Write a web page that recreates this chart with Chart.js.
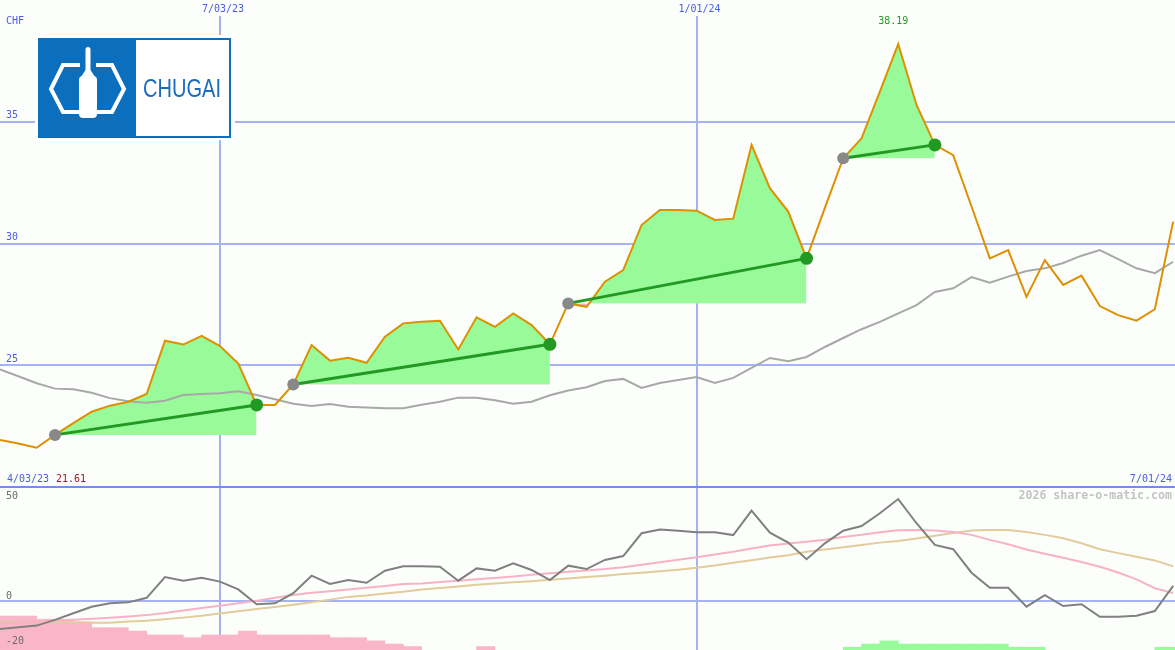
<!DOCTYPE html>
<html>
<head>
<meta charset="utf-8">
<script src="https://cdn.jsdelivr.net/npm/chart.js@4.4.0/dist/chart.umd.min.js"></script>
<style>
  html, body { margin: 0; padding: 0; background: #fbfefb; }
  #wrap { position: relative; width: 1175px; height: 650px; }
</style>
</head>
<body>
<div id="wrap"><canvas id="chart" width="1175" height="650"></canvas></div>
<script>
// weekly closes, index 0 = week of 10 Apr 2023
const START_DATE = "2023-04-10";
const X_SPAN = 64.1;

const PRICE = [
  21.93, 21.79, 21.61, 22.14, 22.62, 23.09, 23.34, 23.50, 23.82, 26.01,
  25.85, 26.21, 25.79, 25.07, 23.37, 23.37, 24.21, 25.83, 25.19, 25.31,
  25.10, 26.17, 26.72, 26.79, 26.83, 25.65, 26.97, 26.58, 27.13, 26.65,
  25.86, 27.54, 27.40, 28.43, 28.91, 30.76, 31.38, 31.38, 31.35, 30.97,
  31.02, 34.05, 32.27, 31.31, 29.39, 31.46, 33.50, 34.32, 36.24, 38.19,
  35.69, 34.05, 33.63, 31.52, 29.39, 29.73, 27.81, 29.32, 28.30, 28.68,
  27.43, 27.06, 26.83, 27.30, 30.90,
];

const PRICE_MA = [
  24.83, 24.55, 24.26, 24.04, 24.01, 23.87, 23.65, 23.52, 23.46, 23.54,
  23.78, 23.82, 23.85, 23.93, 23.78, 23.60, 23.42, 23.33, 23.41, 23.30,
  23.26, 23.23, 23.23, 23.38, 23.50, 23.67, 23.67, 23.56, 23.42, 23.50,
  23.77, 23.96, 24.10, 24.35, 24.44, 24.07, 24.27, 24.39, 24.52, 24.27,
  24.48, 24.89, 25.30, 25.17, 25.34, 25.75, 26.12, 26.48, 26.78, 27.13,
  27.47, 28.01, 28.16, 28.62, 28.39, 28.64, 28.87, 28.98, 29.20, 29.50,
  29.73, 29.36, 28.98, 28.78, 29.25,
];

// trend segments: start / end week index
const TREND_START = [3, 16, 31, 46];
const TREND_END = [14, 30, 44, 51];

const OSC = [
  -12.3, -11.5, -10.8, -8.3, -5.4, -2.5, -1.0, -0.6, 1.4, 10.5,
  8.9, 10.2, 8.5, 5.1, -1.4, -1.0, 3.4, 11.1, 7.5, 9.2,
  8.0, 13.3, 15.2, 15.2, 15.0, 8.9, 14.3, 13.3, 16.5, 13.6,
  9.2, 15.5, 14.0, 18.0, 19.7, 29.7, 31.4, 30.8, 30.1, 30.1,
  28.9, 39.6, 30.0, 25.6, 18.3, 25.3, 30.8, 32.9, 38.5, 44.7,
  34.1, 24.6, 22.7, 12.4, 5.8, 5.8, -2.5, 2.6, -2.2, -1.4,
  -6.9, -6.9, -6.5, -4.4, 6.6,
];

const OSC_FAST = [
  -9.8, -9.5, -9.1, -8.6, -8.2, -7.8, -7.3, -6.8, -6.2, -5.3,
  -4.2, -3.1, -2.1, -1.0, 0.1, 1.4, 2.6, 3.6, 4.3, 5.0,
  5.8, 6.6, 7.4, 7.7, 8.3, 8.9, 9.5, 10.1, 10.7, 11.5,
  12.2, 12.8, 13.4, 14.0, 14.8, 15.9, 17.0, 18.1, 19.2, 20.4,
  21.6, 23.0, 24.3, 25.2, 26.0, 26.9, 28.1, 29.1, 30.2, 31.0,
  31.1, 30.9, 30.3, 29.0, 26.8, 24.9, 22.6, 20.7, 19.0, 17.1,
  15.0, 12.5, 9.5, 5.6, 3.5,
];

const OSC_SLOW = [
  -9.1, -9.2, -9.3, -9.3, -9.4, -9.5, -9.5, -9.0, -8.7, -8.0,
  -7.3, -6.5, -5.5, -4.5, -3.5, -2.6, -1.7, -0.6, 0.6, 1.8,
  2.4, 3.3, 4.1, 5.0, 5.7, 6.4, 7.1, 7.7, 8.2, 8.7,
  9.3, 9.9, 10.5, 11.1, 11.8, 12.4, 13.0, 13.7, 14.6, 15.6,
  16.8, 17.9, 19.1, 20.1, 21.6, 22.6, 23.6, 24.6, 25.6, 26.3,
  27.4, 28.6, 29.8, 30.9, 31.1, 31.1, 30.3, 29.0, 27.5, 25.3,
  22.7, 21.0, 19.4, 17.8, 15.2,
];

// histogram bar tops, drawn up from the panel floor
const HIST_NEG = [
  -6.6, -6.6, -8.0, -8.0, -9.1, -11.7, -11.7, -13.2, -14.9, -14.9,
  -16.1, -14.9, -14.9, -13.2, -14.9, -14.9, -14.9, -14.9, -16.1, -16.1,
  -17.5, -18.9, -20.0, null, null, null, -20.0, null, null, null,
  null, null, null, null, null, null, null, null, null, null,
  null, null, null, null, null, null, null, null, null, null,
  null, null, null, null, null, null, null, null, null, null,
  null, null, null, null, null,
];
const HIST_POS = [
  null, null, null, null, null, null, null, null, null, null,
  null, null, null, null, null, null, null, null, null, null,
  null, null, null, null, null, null, null, null, null, null,
  null, null, null, null, null, null, null, null, null, null,
  null, null, null, null, null, null, -20.3, -18.9, -17.5, -18.9,
  -18.9, -18.9, -18.9, -18.9, -18.9, -20.3, -20.3, null, null, null,
  null, null, null, -20.3, -20.3,
];

const PRICE_TICKS = [25, 30, 35];
const OSC_TICKS = [50, 0, -20];
const DATE_LINES = ["2023-07-03", "2024-01-01"];
const DATE_LINE_LABELS = ["7/03/23", "1/01/24"];
const RANGE_LABELS = ["4/03/23", "7/01/24"];

// panel layout: price 40..20 on top 487px, oscillator 50..-21.5 below
const H = 650, SPLIT = 487;
const PRICE_TOP = 40, PRICE_BOTTOM = 20;
const OSC_TOP = 50, OSC_BOTTOM = -21.5;

const BLUE_TEXT = "#4c5ce6";
const GRID = "#a6b2f2";
const MONO = '10px "DejaVu Sans Mono", monospace';

function weekIndex(dateStr) {
  return (new Date(dateStr) - new Date(START_DATE)) / (7 * 86400000);
}

function toPoints(values) {
  return values.map((v, i) => ({ x: i, y: v }));
}

function barPoints(values) {
  return values
    .map((v, i) => ({ x: i + 0.5, y: v }))
    .filter((p) => p.y !== null);
}

function roundRect(ctx, x, y, w, h, r) {
  ctx.beginPath();
  ctx.moveTo(x + r, y);
  ctx.arcTo(x + w, y, x + w, y + h, r);
  ctx.arcTo(x + w, y + h, x, y + h, r);
  ctx.arcTo(x, y + h, x, y, r);
  ctx.arcTo(x, y, x + w, y, r);
  ctx.closePath();
  ctx.fill();
}

function drawLogo(ctx) {
  const blue = "#0b6fbe";
  ctx.save();
  ctx.fillStyle = "#ffffff";
  ctx.fillRect(35, 35, 200, 105);
  ctx.fillStyle = blue;
  ctx.fillRect(38, 38, 98, 100);
  ctx.strokeStyle = blue;
  ctx.lineWidth = 2;
  ctx.strokeRect(39, 39, 191, 98);

  ctx.strokeStyle = "#ffffff";
  ctx.lineWidth = 4;
  ctx.lineJoin = "miter";
  ctx.beginPath();
  ctx.moveTo(80, 65); ctx.lineTo(63, 65); ctx.lineTo(51, 89); ctx.lineTo(63, 112); ctx.lineTo(80, 112);
  ctx.stroke();
  ctx.beginPath();
  ctx.moveTo(96, 65); ctx.lineTo(112, 65); ctx.lineTo(124, 89); ctx.lineTo(112, 112); ctx.lineTo(96, 112);
  ctx.stroke();

  ctx.fillStyle = "#ffffff";
  roundRect(ctx, 85.5, 47, 5, 30, 2.5);
  ctx.beginPath();
  ctx.moveTo(85.5, 70); ctx.lineTo(90.5, 70); ctx.lineTo(97, 80); ctx.lineTo(79, 80);
  ctx.closePath();
  ctx.fill();
  roundRect(ctx, 79, 76, 18, 42, 4);

  ctx.fillStyle = "#1a6cbf";
  ctx.font = '25px "Liberation Sans", Arial, sans-serif';
  ctx.textAlign = "left";
  ctx.textBaseline = "alphabetic";
  ctx.fillText("CHUGAI", 143, 97, 78);
  ctx.restore();
}

const backdrop = {
  id: "backdrop",
  beforeDatasetsDraw(chart) {
    const { ctx, scales } = chart;
    const { x, y, y2 } = scales;
    ctx.save();
    ctx.lineWidth = 2;
    ctx.strokeStyle = GRID;
    PRICE_TICKS.forEach((t) => {
      const py = Math.round(y.getPixelForValue(t));
      ctx.beginPath(); ctx.moveTo(0, py); ctx.lineTo(1175, py); ctx.stroke();
    });
    const zy = Math.round(y2.getPixelForValue(0));
    ctx.beginPath(); ctx.moveTo(0, zy); ctx.lineTo(1175, zy); ctx.stroke();
    DATE_LINES.forEach((d) => {
      const px = Math.round(x.getPixelForValue(weekIndex(d)));
      ctx.beginPath(); ctx.moveTo(px, 16); ctx.lineTo(px, H); ctx.stroke();
    });
    ctx.strokeStyle = "#7888ec";
    const sy = Math.round(y2.getPixelForValue(OSC_TOP));
    ctx.beginPath(); ctx.moveTo(0, sy); ctx.lineTo(1175, sy); ctx.stroke();
    ctx.restore();
    drawLogo(ctx);
  },
  afterDraw(chart) {
    const { ctx, scales } = chart;
    const { x, y, y2 } = scales;
    ctx.save();
    ctx.font = MONO;
    ctx.textBaseline = "middle";
    ctx.fillStyle = BLUE_TEXT;
    ctx.textAlign = "left";
    ctx.fillText("CHF", 6, 21);
    PRICE_TICKS.forEach((t) => ctx.fillText(String(t), 6, y.getPixelForValue(t) - 6));
    ctx.fillText(RANGE_LABELS[0], 7, 479);
    ctx.textAlign = "right";
    ctx.fillText(RANGE_LABELS[1], 1172, 479);
    ctx.textAlign = "center";
    DATE_LINES.forEach((d, i) => {
      ctx.fillText(DATE_LINE_LABELS[i], x.getPixelForValue(weekIndex(d)) + 3, 9);
    });

    // high / low
    const hi = PRICE.indexOf(Math.max(...PRICE));
    const lo = Math.min(...PRICE);
    ctx.fillStyle = "#229922";
    ctx.fillText(PRICE[hi].toFixed(2), x.getPixelForValue(hi) - 5, y.getPixelForValue(PRICE[hi]) - 23);
    ctx.textAlign = "left";
    ctx.fillStyle = "#a01818";
    ctx.fillText(lo.toFixed(2), 56, 479);

    ctx.fillStyle = "#6a6a6a";
    OSC_TICKS.forEach((t) => {
      const py = y2.getPixelForValue(t);
      ctx.fillText(String(t), 6, t === OSC_TOP ? py + 9 : py - 5);
    });

    ctx.font = 'bold 11.6px "DejaVu Sans Mono", monospace';
    ctx.fillStyle = "#c4c4c4";
    ctx.textAlign = "right";
    ctx.fillText("2026 share-o-matic.com", 1172, 496);
    ctx.restore();
  },
};

const trendFills = TREND_START.map((s, k) => ({
  type: "line",
  data: PRICE.slice(s, TREND_END[k] + 1).map((v, j) => ({ x: s + j, y: v })),
  borderWidth: 0,
  borderColor: "rgba(0,0,0,0)",
  pointRadius: 0,
  fill: { target: { value: PRICE[s] }, above: "#98fa98", below: "#ffb8c8" },
  yAxisID: "y",
  order: 20,
}));

const trendLines = TREND_START.map((s, k) => ({
  type: "line",
  data: [{ x: s, y: PRICE[s] }, { x: TREND_END[k], y: PRICE[TREND_END[k]] }],
  borderColor: "#229922",
  borderWidth: 3,
  pointRadius: [6, 6.5],
  pointBackgroundColor: ["#888888", "#229922"],
  pointBorderWidth: 0,
  fill: false,
  yAxisID: "y",
  order: 1,
}));

const lineStyle = (data, color, axis, order) => ({
  type: "line",
  data: toPoints(data),
  borderColor: color,
  borderWidth: 2,
  pointRadius: 0,
  fill: false,
  tension: 0,
  yAxisID: axis,
  order,
});

const barStyle = (data, color) => ({
  type: "bar",
  data: barPoints(data),
  backgroundColor: color,
  borderWidth: 0,
  base: OSC_BOTTOM,
  grouped: false,
  barPercentage: 1,
  categoryPercentage: 1,
  yAxisID: "y2",
  order: 15,
});

new Chart(document.getElementById("chart"), {
  type: "line",
  data: {
    datasets: [
      ...trendFills,
      lineStyle(PRICE_MA, "#a8a8a8", "y", 12),
      barStyle(HIST_NEG, "#f9b6c8"),
      barStyle(HIST_POS, "#98fa98"),
      lineStyle(OSC_SLOW, "#e2cc9c", "y2", 8),
      lineStyle(OSC_FAST, "#f8b2c8", "y2", 7),
      lineStyle(OSC, "#808080", "y2", 6),
      lineStyle(PRICE, "#dd9000", "y", 3),
      ...trendLines,
    ],
  },
  options: {
    responsive: false,
    animation: false,
    events: [],
    layout: { padding: 0, autoPadding: false },
    plugins: { legend: { display: false }, tooltip: { enabled: false } },
    scales: {
      x: { type: "linear", display: false, offset: false, min: 0, max: X_SPAN },
      y: {
        display: false,
        min: PRICE_TOP - ((PRICE_TOP - PRICE_BOTTOM) * H) / SPLIT,
        max: PRICE_TOP,
      },
      y2: {
        display: false,
        min: OSC_BOTTOM,
        max: OSC_TOP + ((OSC_TOP - OSC_BOTTOM) * SPLIT) / (H - SPLIT),
      },
    },
  },
  plugins: [backdrop],
});
</script>
</body>
</html>
